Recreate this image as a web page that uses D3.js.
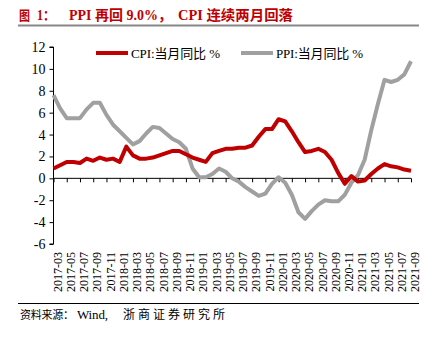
<!DOCTYPE html>
<html><head><meta charset="utf-8">
<script src="https://cdn.jsdelivr.net/npm/d3@7"></script>
<style>body{margin:0;background:#fff}svg{display:block}</style>
</head><body>
<script>
const months = [];
for (let y = 2017; y <= 2021; y++) for (let m = 1; m <= 12; m++) {
  if ((y === 2017 && m < 3) || (y === 2021 && m > 9)) continue;
  months.push(y + "-" + String(m).padStart(2, "0"));
}
const cpi = [0.9,1.2,1.5,1.5,1.4,1.8,1.6,1.9,1.7,1.8,1.5,2.9,2.1,1.8,1.8,1.9,2.1,2.3,2.5,2.5,2.2,1.9,1.7,1.5,2.3,2.5,2.7,2.7,2.8,2.8,3.0,3.8,4.5,4.5,5.4,5.2,4.3,3.3,2.4,2.5,2.7,2.4,1.7,0.5,-0.5,0.2,-0.3,-0.2,0.4,0.9,1.3,1.1,1.0,0.8,0.7];
const ppi = [7.6,6.4,5.5,5.5,5.5,6.3,6.9,6.9,5.8,4.9,4.3,3.7,3.1,3.4,4.1,4.7,4.6,4.1,3.6,3.3,2.7,0.9,0.1,0.1,0.4,0.9,0.6,0.0,-0.3,-0.8,-1.2,-1.6,-1.4,-0.5,0.1,-0.4,-1.5,-3.1,-3.7,-3.0,-2.4,-2.0,-2.1,-2.1,-1.5,-0.4,0.3,1.7,4.4,6.8,9.0,8.8,9.0,9.5,10.7];
const yTicks = [-6,-4,-2,0,2,4,6,8,10,12];
const seriesNames = ["CPI:当月同比 %", "PPI:当月同比 %"];
const colors = ["#C00000", "#A0A0A0"];
const titleParts = ["图", "1：", "PPI 再回 9.0%，", "CPI 连续两月回落"];
const sourceParts = ["资料来源：", "Wind,", "浙商证券研究所"];

const W = 438, H = 342;
const svg = d3.select("body").append("svg").attr("width", W).attr("height", H);
const serif = "'Liberation Serif','Times New Roman',serif";
const cjk = "'Liberation Serif','Noto Sans CJK SC',serif";

const x = d3.scalePoint().domain(months).range([53.5, 411]);
const y = d3.scaleLinear().domain([-6, 12]).range([244, 47]);

// title
const tLayout = [{x: 19, len: 11, fs: 13}, {x: 37, len: 18, fs: 14}, {x: 69, len: 103, fs: 14}, {x: 178, len: 115, fs: 14}];
titleParts.forEach((p, i) => svg.append("text").attr("x", tLayout[i].x).attr("y", 20)
  .attr("fill", "#C00000").attr("font-family", cjk).attr("font-weight", "bold")
  .attr("font-size", tLayout[i].fs).attr("textLength", tLayout[i].len)
  .attr("lengthAdjust", "spacingAndGlyphs").text(p));
svg.append("line").attr("x1", 18).attr("x2", 419).attr("y1", 25.5).attr("y2", 25.5)
  .attr("stroke", "#888").attr("stroke-width", 2);

// y axis
const yAxis = svg.append("g").attr("transform", `translate(${x(months[0])},0)`)
  .call(d3.axisLeft(y).tickValues(yTicks).tickSize(4).tickPadding(4).tickFormat(d => String(d)));
yAxis.selectAll("text").attr("font-family", serif).attr("font-size", 14).attr("fill", "#000");
yAxis.select(".domain").attr("stroke", "#000").attr("d", `M-4,${y(-6)}H0V${y(12)}H-4`);

// x axis at 0
const tickMonths = months.filter((d, i) => i % 2 === 0);
const xAxis = svg.append("g").attr("transform", `translate(0,${y(0)})`)
  .call(d3.axisBottom(x).tickValues(tickMonths).tickSize(4).tickFormat(""));
xAxis.select(".domain").attr("stroke", "#000").attr("d", `M${x(months[0])},0H${x(months[months.length-1])}`);
xAxis.selectAll("line").attr("stroke", "#000");

svg.append("g").selectAll("text").data(tickMonths).join("text")
  .attr("transform", d => `translate(${x(d) + 4},252) rotate(-90)`)
  .attr("text-anchor", "end").attr("dy", "0.35em")
  .attr("font-family", serif).attr("font-size", 12).text(d => d);

// lines
const line = d3.line().x((d, i) => x(months[i])).y(d => y(d));
[ppi, cpi].forEach((s, k) => {
  svg.append("path").attr("d", line(s)).attr("fill", "none")
    .attr("stroke", colors[1 - k]).attr("stroke-width", 4).attr("stroke-linejoin", "round");
});

// legend
const leg = [{x1: 96, x2: 128, tx: 131, len: 89}, {x1: 241, x2: 273, tx: 276, len: 87}];
leg.forEach((l, i) => {
  svg.append("line").attr("x1", l.x1).attr("x2", l.x2).attr("y1", 53).attr("y2", 53)
    .attr("stroke", colors[i]).attr("stroke-width", 4);
  svg.append("text").attr("x", l.tx).attr("y", 57.5).attr("font-family", cjk)
    .attr("font-size", 13).attr("textLength", l.len).attr("lengthAdjust", "spacing")
    .text(seriesNames[i]);
});

// source
svg.append("line").attr("x1", 18).attr("x2", 419).attr("y1", 303.5).attr("y2", 303.5)
  .attr("stroke", "#000").attr("stroke-width", 1);
const sLayout = [{x: 20, len: 54, fs: 11}, {x: 77, len: 31, fs: 13}, {x: 123, len: 102, fs: 12}];
sourceParts.forEach((p, i) => svg.append("text").attr("x", sLayout[i].x).attr("y", 318.5)
  .attr("font-family", cjk).attr("font-size", sLayout[i].fs)
  .attr("textLength", sLayout[i].len).attr("lengthAdjust", "spacing").text(p));
</script>
</body></html>
